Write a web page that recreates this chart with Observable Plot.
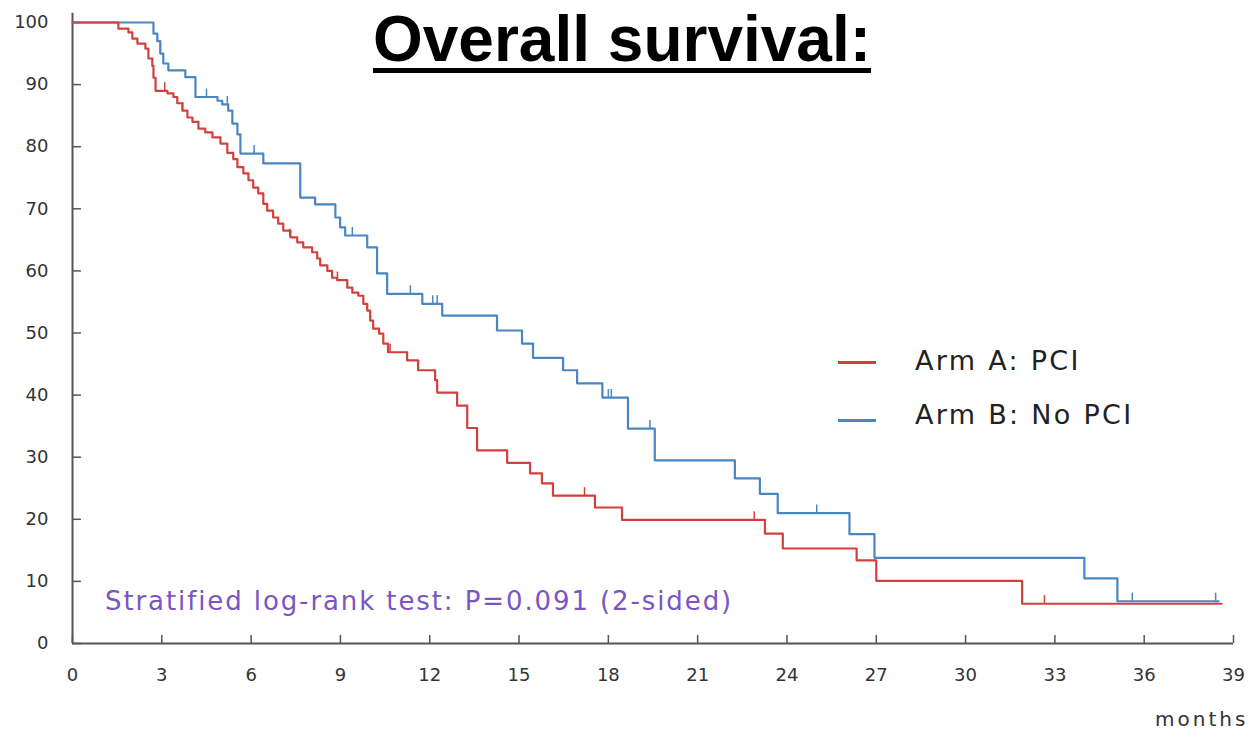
<!DOCTYPE html>
<html><head><meta charset="utf-8">
<script src="https://cdn.jsdelivr.net/npm/d3@7"></script>
<script src="https://cdn.jsdelivr.net/npm/@observablehq/plot@0.6"></script>
<style>
body{margin:0;background:#fff;}
#wrap{position:relative;width:1254px;height:732px;overflow:hidden;background:#fff;}
#wrap svg{position:absolute;left:0;top:0;}
.title{position:absolute;left:0;width:1244px;top:2px;text-align:center;font:bold 64px "Liberation Sans",Arial,sans-serif;color:#000;}
.title span{text-decoration:underline;text-decoration-thickness:5px;text-underline-offset:7px;}
.note{position:absolute;left:105px;top:586px;font:26px "DejaVu Sans",sans-serif;letter-spacing:1.9px;color:#7b55c2;white-space:nowrap;}
.months{position:absolute;left:1155px;top:707px;font:20px "DejaVu Sans",sans-serif;letter-spacing:3px;color:#333;}
.leg{position:absolute;left:838px;font:27px "DejaVu Sans",sans-serif;letter-spacing:2.3px;color:#222;white-space:nowrap;}
.leg i{position:absolute;left:0;top:17px;width:38px;height:3px;}
.leg b{font-weight:normal;position:absolute;left:77px;}
</style></head>
<body><div id="wrap">
<div class="title"><span>Overall survival:</span></div>
<div class="note">Stratified log-rank test: P=0.091 (2-sided)</div>
<div class="months">months</div>
<div class="leg" style="top:344px"><i style="background:#d2403c"></i><b style="top:1px">Arm A: PCI</b></div>
<div class="leg" style="top:402px"><i style="background:#4a86c0"></i><b style="top:-3px">Arm B: No PCI</b></div>
</div>
<script>
const armA_t = [0,1.54,1.88,2.01,2.18,2.45,2.55,2.68,2.72,2.79,3.19,3.39,3.52,3.69,3.86,4.03,4.23,4.46,4.7,4.97,5.2,5.4,5.54,5.74,5.91,6.07,6.24,6.41,6.54,6.74,6.91,7.08,7.32,7.55,7.75,8.05,8.22,8.32,8.56,8.72,8.89,9.23,9.4,9.6,9.77,9.9,10.0,10.1,10.3,10.44,10.6,11.24,11.61,12.18,12.25,12.92,13.26,13.59,14.6,15.37,15.77,16.14,17.55,18.46,23.26,23.86,26.34,27.0,31.9,38.6];
const armA_s = [100,99,98.4,97.4,96.6,95.8,94.2,93,91.1,89,88.6,88,87,85.8,84.7,84,82.9,82.3,81.5,80.5,79,78,76.7,75.7,74.6,73.4,72.5,70.8,69.7,68.6,67.6,66.5,65.4,64.6,63.8,63,62,60.9,60,58.9,58.5,57.3,56.5,56,54.7,53.6,52,50.7,49.9,48.3,46.9,45.6,44,42.4,40.4,38.3,34.7,31.1,29.1,27.4,25.8,23.8,21.9,19.9,17.7,15.3,13.4,10.1,6.4,6.4];
const armB_t = [0,2.72,2.85,2.95,3.05,3.22,3.79,4.13,4.87,5.03,5.23,5.37,5.54,5.64,6.41,7.65,8.15,8.83,8.99,9.16,9.9,10.23,10.57,11.75,12.42,14.26,15.1,15.47,16.48,16.95,17.8,18.66,19.56,22.25,23.09,23.69,26.1,26.94,33.99,35.1,38.5];
const armB_s = [100,98.2,97,95,93.4,92.3,91.2,88,87.4,86.8,85.8,83.7,82,78.9,77.3,71.8,70.7,68.6,67,65.7,63.8,59.6,56.3,54.7,52.8,50.4,48.3,46,44,41.9,39.6,34.6,29.5,26.6,24.1,21,17.6,13.8,10.5,6.8,6.8];
const censorA_t = [3.1,3.7,7.3,8.9,10.67,11.24,17.2,22.9,32.65];
const censorA_s = [89,85.8,65.4,58.5,46.9,45.6,23.8,19.9,6.4];
const censorB_t = [2.95,4.5,5.2,6.1,9.4,11.35,12.1,12.25,16.95,18.0,18.1,19.4,25.0,35.6,38.4];
const censorB_s = [95,88,86.8,78.9,65.7,56.3,54.7,54.7,41.9,39.6,39.6,34.6,21,6.8,6.8];
const xTicks = [0,3,6,9,12,15,18,21,24,27,30,33,36,39];
const yTicks = [0,10,20,30,40,50,60,70,80,90,100];
const seriesNames = ["Arm B: No PCI","Arm A: PCI"];
const seriesColors = ["#4a86c0","#d2403c"];

const rows = [
  ...armB_t.map((t,i)=>({arm:seriesNames[0], t, s:armB_s[i]})),
  ...armA_t.map((t,i)=>({arm:seriesNames[1], t, s:armA_s[i]}))
];
const cens = [
  ...censorB_t.map((t,i)=>({arm:seriesNames[0], t, s:censorB_s[i]})),
  ...censorA_t.map((t,i)=>({arm:seriesNames[1], t, s:censorA_s[i]}))
];

const chart = Plot.plot({
  width:1254, height:732,
  marginLeft:72, marginRight:21, marginTop:22, marginBottom:89,
  style:{fontFamily:"'DejaVu Sans',sans-serif", background:"transparent"},
  x:{domain:[0,39]},
  y:{domain:[0,100]},
  color:{domain:seriesNames, range:seriesColors},
  marks:[
    Plot.axisX({ticks:xTicks, tickSize:0, tickPadding:25, fontSize:18, color:"#333", label:null}),
    Plot.axisY({ticks:yTicks, tickSize:0, tickPadding:24, fontSize:18, color:"#333", label:null}),
    Plot.ruleX(xTicks, {x:d=>d, y1:0, y2:1.3, stroke:"#555", strokeWidth:1.5}),
    Plot.ruleY(yTicks, {y:d=>d, x1:0, x2:0.3, stroke:"#555", strokeWidth:1.5}),
    Plot.ruleY([0], {x1:0, x2:39, stroke:"#555", strokeWidth:2}),
    Plot.ruleX([0], {y1:0, y2:101.5, stroke:"#555", strokeWidth:2}),
    Plot.line(rows, {x:"t", y:"s", z:"arm", stroke:"arm", curve:"step-after", strokeWidth:2.2}),
    Plot.ruleX(cens, {x:"t", y1:"s", y2:d=>d.s+1.3, stroke:"arm", strokeWidth:1.5})
  ]
});
document.getElementById("wrap").prepend(chart);
</script>
</body></html>
